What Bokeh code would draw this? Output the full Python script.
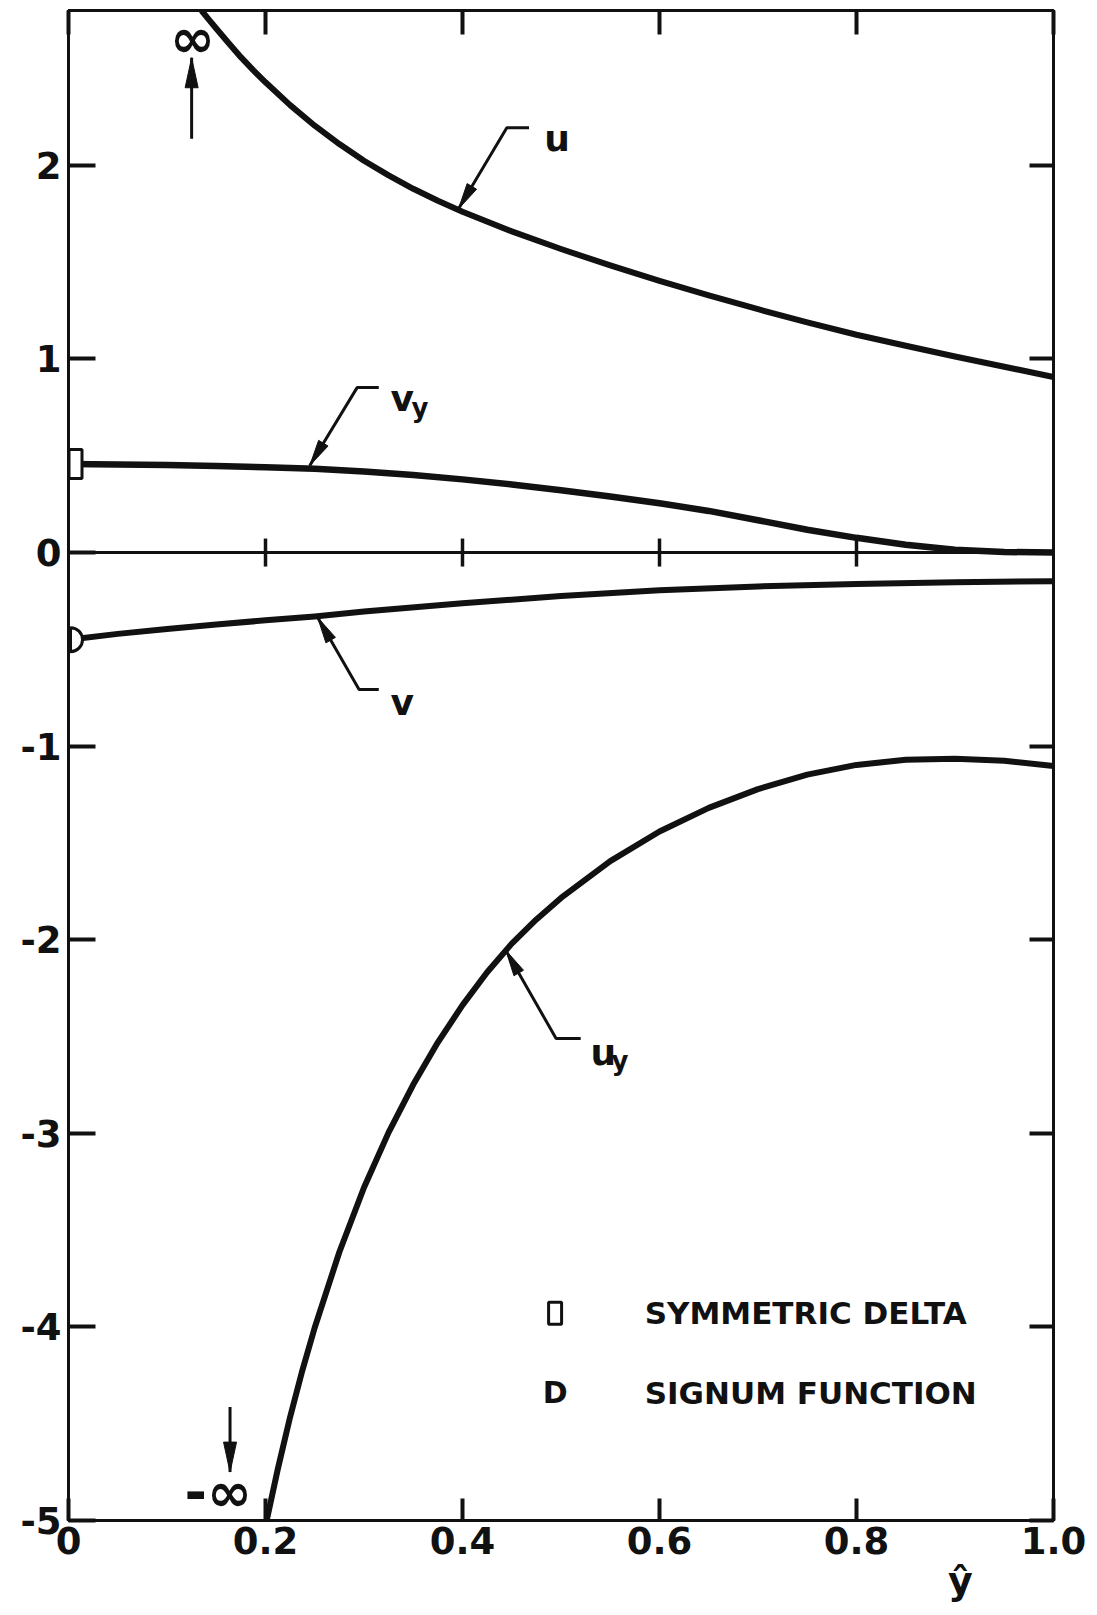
import math
from bokeh.plotting import figure
from bokeh.models import (Range1d, LinearAxis, Span, Title, FixedTicker,
                          CustomJSTickFormatter)
from bokeh.embed import file_html
from bokeh.resources import INLINE
from bokeh.core.properties import value

# ---------------- data ----------------
x_ticks = [0.0, 0.2, 0.4, 0.6, 0.8, 1.0]
x_tick_labels = ["0", "0.2", "0.4", "0.6", "0.8", "1.0"]
y_ticks = [2, 1, 0, -1, -2, -3, -4, -5]
y_tick_labels = ["2", "1", "0", "-1", "-2", "-3", "-4", "-5"]
zero_cross_ticks = [0.2, 0.4, 0.6, 0.8]

# u(ŷ)
u_x = [0.135, 0.1425, 0.15, 0.1625, 0.175, 0.1875, 0.20, 0.225, 0.25, 0.275,
       0.30, 0.325, 0.35, 0.375, 0.40, 0.45, 0.50, 0.55, 0.60, 0.65, 0.70,
       0.75, 0.80, 0.85, 0.90, 0.95, 1.00]
u_val = [2.80, 2.753, 2.707, 2.632, 2.559, 2.492, 2.429, 2.311, 2.205, 2.110,
         2.024, 1.948, 1.879, 1.817, 1.760, 1.659, 1.568, 1.483, 1.403, 1.328,
         1.257, 1.189, 1.125, 1.068, 1.013, 0.960, 0.907]

# v_y(ŷ)
vy_x = [0.0, 0.05, 0.10, 0.15, 0.20, 0.25, 0.30, 0.35, 0.40, 0.45, 0.50,
        0.55, 0.60, 0.65, 0.70, 0.75, 0.80, 0.85, 0.90, 0.95, 1.00]
vy_val = [0.457, 0.455, 0.452, 0.447, 0.441, 0.433, 0.419, 0.400, 0.378,
          0.352, 0.322, 0.290, 0.255, 0.215, 0.167, 0.118, 0.076, 0.040,
          0.015, 0.003, 0.0]

# v(ŷ)
v_x = [0.0, 0.05, 0.10, 0.15, 0.20, 0.25, 0.30, 0.40, 0.50, 0.60, 0.70,
       0.80, 0.90, 1.00]
v_val = [-0.450, -0.420, -0.395, -0.372, -0.350, -0.330, -0.305, -0.262,
         -0.225, -0.195, -0.175, -0.162, -0.153, -0.148]

# u_y(ŷ)
uy_x = [0.20, 0.2125, 0.225, 0.2375, 0.25, 0.275, 0.30, 0.325, 0.35, 0.375,
        0.40, 0.425, 0.45, 0.475, 0.50, 0.55, 0.60, 0.65, 0.70, 0.75, 0.80,
        0.85, 0.90, 0.95, 1.00]
uy_val = [-5.028, -4.734, -4.465, -4.223, -4.003, -3.613, -3.280, -2.995,
          -2.748, -2.530, -2.338, -2.168, -2.020, -1.895, -1.784, -1.594,
          -1.441, -1.319, -1.222, -1.147, -1.097, -1.070, -1.065, -1.075,
          -1.103]

# curve labels with leader arrows
lab_main = ["u", "v", "v", "u"]
lab_sub = ["", "y", "", "y"]
lab_x = [0.483, 0.327, 0.327, 0.530]
lab_y = [2.14, 0.795, -0.774, -2.58]
lead_end_x = [0.4675, 0.315, 0.315, 0.520]
lead_end_y = [2.194, 0.852, -0.707, -2.51]
lead_elb_x = [0.445, 0.293, 0.295, 0.495]
lead_tip_x = [0.396, 0.245, 0.253, 0.444]
lead_tip_y = [1.776, 0.450, -0.336, -2.055]

# infinity markers
inf_text = ["\u221e", "-\u221e"]
inf_text_x = [0.126, 0.152]
inf_text_y = [2.655, -4.853]
inf_arrow_x = [0.125, 0.164]
inf_arrow_from = [2.137, -4.414]
inf_arrow_to = [2.556, -4.75]

# legend
legend_labels = ["SYMMETRIC DELTA", "SIGNUM  FUNCTION"]
legend_sym_x = 0.494
legend_text_x = 0.585
legend_y = [-3.93, -4.34]

xhat_label = "\u0177"
xhat_x = 0.905

# ---------------- figure ----------------
X0, X1 = 0.0, 1.0
Y0, Y1 = -5.0, 2.8
FW, FH = 985, 1510
LEFT = 68
PXX = (X1 - X0) / FW
PXY = (Y1 - Y0) / FH
FONT = "DejaVu Sans"
INK = "#111111"

p = figure(frame_width=FW, frame_height=FH,
           x_range=Range1d(X0, X1), y_range=Range1d(Y0, Y1),
           output_backend="svg", toolbar_location=None,
           min_border_left=LEFT, min_border_right=40,
           min_border_top=10, min_border_bottom=0)
p.grid.visible = False
p.background_fill_color = "white"
p.border_fill_color = "white"
p.outline_line_color = INK
p.outline_line_width = 3


def fmt(tick_values, tick_texts):
    return CustomJSTickFormatter(
        args=dict(tv=list(tick_values), tl=list(tick_texts)),
        code="const i = tv.findIndex(t => Math.abs(t - tick) < 1e-9);"
             "return i >= 0 ? tl[i] : '';")


def style_axis(ax, tick_in):
    ax.axis_line_color = INK
    ax.axis_line_width = 3
    ax.major_tick_line_color = INK
    ax.major_tick_line_width = 4
    ax.major_tick_in = tick_in
    ax.major_tick_out = 0
    ax.minor_tick_line_color = None
    ax.major_label_text_font = FONT
    ax.major_label_text_font_style = "bold"
    ax.major_label_text_font_size = "37px"
    ax.major_label_text_color = INK


xa = p.xaxis[0]
xa.ticker = FixedTicker(ticks=x_ticks)
xa.formatter = fmt(x_ticks, x_tick_labels)
style_axis(xa, 22)
xa.major_label_standoff = 6

ya = p.yaxis[0]
ya.ticker = FixedTicker(ticks=y_ticks)
ya.formatter = fmt(y_ticks, y_tick_labels)
style_axis(ya, 27)
ya.major_label_standoff = 7

top = LinearAxis(ticker=FixedTicker(ticks=x_ticks),
                 formatter=CustomJSTickFormatter(code="return ''"))
style_axis(top, 24)
top.major_label_standoff = 0
top.major_label_text_font_size = "1px"
p.add_layout(top, "above")

right = LinearAxis(ticker=FixedTicker(ticks=y_ticks),
                   formatter=CustomJSTickFormatter(code="return ''"))
style_axis(right, 24)
right.major_label_standoff = 0
right.major_label_text_font_size = "1px"
p.add_layout(right, "right")

# axis variable ŷ under the tick labels, at its ŷ position
p.add_layout(Title(text=xhat_label, align="left",
                   offset=xhat_x * FW - 12, standoff=0,
                   text_font=FONT, text_font_style="bold",
                   text_font_size="38px", text_color=INK), "below")

# zero line with crossing ticks
p.add_layout(Span(location=0, dimension="width", line_color=INK, line_width=3))
p.scatter(x=zero_cross_ticks, y=[0] * len(zero_cross_ticks), marker="dash",
          angle=math.pi / 2, size=28, line_color=INK, line_width=3.5)

# curves
for xs_, ys_, lw in ((u_x, u_val, 6), (vy_x, vy_val, 6.5),
                     (v_x, v_val, 6), (uy_x, uy_val, 6)):
    p.line(xs_, ys_, line_color=INK, line_width=lw, line_join="round")

# end markers at ŷ = 0
p.rect(x=[vy_x[0] + 7 * PXX], y=[vy_val[0]], width=13, height=29,
       width_units="screen", height_units="screen",
       fill_color="white", line_color=INK, line_width=3)
p.wedge(x=[v_x[0] + 2 * PXX], y=[v_val[0]], radius=12, radius_units="screen",
        start_angle=-math.pi / 2, end_angle=math.pi / 2,
        fill_color="white", line_color=INK, line_width=3)


def head(tx, ty, fx, fy, L, W):
    dx = (tx - fx) / PXX
    dy = (ty - fy) / PXY
    n = math.hypot(dx, dy)
    ux, uy = dx / n, dy / n
    bx, by = -L * ux, -L * uy
    nx, ny = -uy * W / 2, ux * W / 2
    xs = [tx, tx + (bx + nx) * PXX, tx + (bx - nx) * PXX]
    ys = [ty, ty + (by + ny) * PXY, ty + (by - ny) * PXY]
    return xs, ys


# leader lines + arrowheads
lx, ly, hx, hy = [], [], [], []
for i in range(len(lab_main)):
    lx.append([lead_end_x[i], lead_elb_x[i], lead_tip_x[i]])
    ly.append([lead_end_y[i], lead_end_y[i], lead_tip_y[i]])
    xs, ys = head(lead_tip_x[i], lead_tip_y[i], lead_elb_x[i], lead_end_y[i], 26, 11)
    hx.append(xs)
    hy.append(ys)
for i in range(len(inf_arrow_x)):
    lx.append([inf_arrow_x[i], inf_arrow_x[i]])
    ly.append([inf_arrow_from[i], inf_arrow_to[i]])
    xs, ys = head(inf_arrow_x[i], inf_arrow_to[i], inf_arrow_x[i], inf_arrow_from[i], 30, 13)
    hx.append(xs)
    hy.append(ys)
p.multi_line(lx, ly, line_color=INK, line_width=3)
p.patches(hx, hy, fill_color=INK, line_color=INK, line_width=1)

# curve labels
p.text(x=lab_x, y=lab_y, text=lab_main, text_font=value(FONT),
       text_font_style="bold", text_font_size="36px", text_color=INK,
       text_align="left", text_baseline="alphabetic")
p.text(x=lab_x, y=lab_y, text=lab_sub, text_font=value(FONT),
       text_font_style="bold", text_font_size="26px", text_color=INK,
       text_align="left", text_baseline="alphabetic", x_offset=21, y_offset=9)

# infinity labels
p.text(x=inf_text_x, y=inf_text_y, text=inf_text, text_font=value(FONT),
       text_font_style="bold", text_font_size="54px", text_color=INK,
       text_align="center", text_baseline="middle")

# legend
p.rect(x=[legend_sym_x], y=[legend_y[0]], width=13, height=22,
       width_units="screen", height_units="screen",
       fill_color="white", line_color=INK, line_width=3)
p.text(x=[legend_sym_x], y=[legend_y[1]], text=["D"], text_font=value(FONT),
       text_font_style="bold", text_font_size="30px", text_color=INK,
       text_align="center", text_baseline="middle")
p.text(x=[legend_text_x] * 2, y=legend_y, text=legend_labels,
       text_font=value(FONT), text_font_style="bold", text_font_size="31px",
       text_color=INK, text_align="left", text_baseline="middle")

open("out.html", "w").write(file_html(p, INLINE))
